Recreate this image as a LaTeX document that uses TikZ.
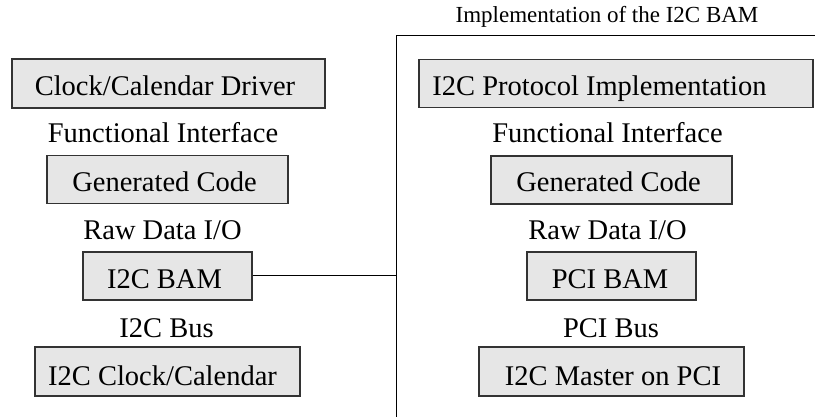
\documentclass[tikz,border=0pt]{standalone}
\usepackage{fontspec}
\setmainfont{Liberation Serif}
\definecolor{boxfill}{HTML}{E6E6E6}
\definecolor{boxline}{HTML}{333333}
\begin{document}
\begin{tikzpicture}[x=1pt,y=-1pt,
  box/.style={draw=boxline,fill=boxfill,line width=1.2pt,inner sep=0pt,rectangle},
  lbl/.style={anchor=base,inner sep=0pt,font=\fontsize{28.5}{30}\selectfont},
  ttl/.style={anchor=base,inner sep=0pt,font=\fontsize{23}{25}\selectfont},
  frame/.style={draw=black,line width=1pt}]
\useasboundingbox (0,0) rectangle (815,417);
% left boxes
\node[box,minimum width=313pt,minimum height=49pt] (drv) at (168.5,83.5) {};
\node[box,minimum width=241pt,minimum height=48pt] (gen1) at (167.5,179.5) {};
\node[box,minimum width=169pt,minimum height=48pt] (bam1) at (167.5,276) {};
\node[box,minimum width=265pt,minimum height=49pt] (clk) at (167.5,371.5) {};
% right boxes
\node[box,minimum width=394pt,minimum height=48pt] (proto) at (616,83.5) {};
\node[box,minimum width=241pt,minimum height=48pt] (gen2) at (611.5,180) {};
\node[box,minimum width=169pt,minimum height=48pt] (bam2) at (611.5,276) {};
\node[box,minimum width=265pt,minimum height=49pt] (mst) at (611.5,371.5) {};
% left texts
\node[lbl] (tdrv) at (165,96) {Clock/Calendar Driver};
\node[lbl] (fi1) at (163,143) {Functional Interface};
\node[lbl] (tgen1) at (164.5,192) {Generated Code};
\node[lbl] (rd1) at (162.5,239.5) {Raw Data I/O};
\node[lbl] (tbam1) at (164.5,288) {I2C BAM};
\node[lbl] (bus1) at (166.5,337) {I2C Bus};
\node[lbl] (tclk) at (162.5,385) {I2C Clock/Calendar};
% right texts
\node[ttl] (title) at (607,23) {Implementation of the I2C BAM};
\node[lbl] (tproto) at (599.5,96) {I2C Protocol Implementation};
\node[lbl] (fi2) at (607.5,143) {Functional Interface};
\node[lbl] (tgen2) at (608.5,192) {Generated Code};
\node[lbl] (rd2) at (607.5,239.5) {Raw Data I/O};
\node[lbl] (tbam2) at (610,288) {PCI BAM};
\node[lbl] (bus2) at (611,337) {PCI Bus};
\node[lbl] (tmst) at (613,385) {I2C Master on PCI};
% frame
\coordinate (fb) at (396,417);
\coordinate (ft) at (396,36);
\coordinate (fr) at (815,36);
\coordinate (fj) at (396,276);
\draw[frame] (fb) -- (ft) -- (fr);
\draw[frame] (bam1.east) -- (fj);
\end{tikzpicture}
\end{document}
